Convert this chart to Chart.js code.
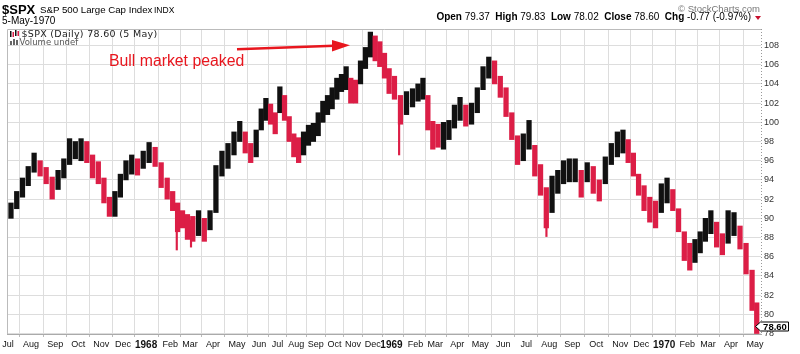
<!DOCTYPE html>
<html>
<head>
<meta charset="utf-8">
<script src="https://cdn.jsdelivr.net/npm/chart.js@4.4.0/dist/chart.umd.min.js"></script>
<style>
  body { margin: 0; background: #fff; }
  #wrap { position: relative; width: 800px; height: 354px; font-family: "Liberation Sans", Arial, sans-serif; color: #000; }
  #wrap canvas { position: absolute; left: 0; top: 0; }
  .t { position: absolute; white-space: nowrap; line-height: 1; }
  .leg { font-family: "DejaVu Sans", Verdana, sans-serif; }
</style>
</head>
<body>
<div id="wrap">
  <canvas id="spxChart" width="800" height="354"></canvas>

  <!-- header -->
  <div class="t" style="left:2px;top:3px;font-size:13px;font-weight:bold;">$SPX</div>
  <div class="t" style="left:40px;top:5px;font-size:9.7px;">S&amp;P 500 Large Cap Index</div>
  <div class="t" style="left:154px;top:5.7px;font-size:8.5px;">INDX</div>
  <div class="t" style="left:2px;top:15.5px;font-size:10px;">5-May-1970</div>
  <div class="t" style="right:40px;top:4px;font-size:9.5px;color:#777;">&copy; StockCharts.com</div>
  <div class="t" style="right:49px;top:11.5px;font-size:10px;">
    <b>Open</b> 79.37 &nbsp;<b>High</b> 79.83 &nbsp;<b>Low</b> 78.02 &nbsp;<b>Close</b> 78.60 &nbsp;<b>Chg</b> -0.77 (-0.97%)
  </div>
  <div style="position:absolute;left:755px;top:16px;width:0;height:0;border-left:3.5px solid transparent;border-right:3.5px solid transparent;border-top:4px solid #c8102e;"></div>

  <!-- in-chart legend -->
  <div class="t leg" style="left:21.5px;top:29px;font-size:9.5px;letter-spacing:0.3px;color:#222;">$SPX (Daily) 78.60 (5 May)</div>
  <div class="t leg" style="left:19.5px;top:37.5px;font-size:8.5px;color:#555;">Volume undef</div>

  <!-- annotation -->
  <div class="t" style="left:109px;top:53.2px;font-size:15.8px;color:#e8161e;">Bull market peaked</div>
</div>

<script>
// ============================================
// DATA
// ============================================

// month gridlines, Jul 1967 .. May 1970 (years replace January)
const monthLabels = ['Jul', 'Aug', 'Sep', 'Oct', 'Nov', 'Dec',
    '1968', 'Feb', 'Mar', 'Apr', 'May', 'Jun', 'Jul', 'Aug', 'Sep', 'Oct', 'Nov', 'Dec',
    '1969', 'Feb', 'Mar', 'Apr', 'May', 'Jun', 'Jul', 'Aug', 'Sep', 'Oct', 'Nov', 'Dec',
    '1970', 'Feb', 'Mar', 'Apr', 'May'];

// trading sessions in each month (1968 had the Wednesday closings)
const tradingDays = [21, 22, 21, 21, 20, 21,
    22, 18, 21, 22, 20, 17, 17, 18, 17, 17, 18, 17,
    22, 18, 20, 21, 21, 21, 21, 21, 22, 22, 19, 21,
    21, 19, 21, 22, 3];

// weekly bars per month (May 1970 only has 3 sessions)
const weeksPerMonth = [4, 4, 4, 4, 4, 4,
    4, 4, 4, 4, 4, 4, 4, 4, 4, 4, 4, 4,
    4, 4, 4, 4, 4, 4, 4, 4, 4, 4, 4, 4,
    4, 4, 4, 4, 1];

// weekly lows
const weekLows = [
    90.0, 91.0, 92.2, 93.4,    94.8, 94.4, 93.6, 92.0,    93.0, 94.2, 95.6, 96.2,
    96.0, 95.8, 94.2, 93.6,    91.6, 90.2, 90.2, 92.2,    94.0, 94.6, 94.5, 95.2,
    95.8, 95.4, 93.2, 92.0,    90.8, 88.6, 89.0, 87.8,    87.6, 88.2, 87.6, 88.8,
    90.6, 94.4, 95.2, 96.6,    98.0, 96.8, 95.8, 96.4,    99.2, 100.2, 99.8, 98.8,
    101.0, 100.2, 98.0, 96.4,  95.8, 96.6, 97.6, 98.0,    98.6, 100.0, 100.8, 101.4,
    102.4, 103.2, 103.4, 102.0, 102.0, 104.0, 105.6, 106.8, 106.4, 105.8, 104.6, 103.0,
    102.4, 99.8, 100.8, 101.6, 102.2, 102.4, 99.2, 97.2,  97.4, 97.2, 98.2, 99.4,
    100.2, 99.6, 99.8, 101.0,  103.4, 104.6, 104.0, 102.6, 100.6, 98.2, 95.6, 96.0,
    97.2, 94.4, 92.4, 89.0,    90.6, 92.6, 93.6, 93.8,    93.8, 92.2, 93.8, 92.6,
    91.8, 93.6, 95.6, 96.4,    96.8, 95.8, 94.4, 92.4,    90.8, 89.6, 89.0, 90.6,
    91.6, 90.8, 88.6, 85.6,    84.6, 85.4, 86.4, 87.6,    88.4, 87.0, 86.2, 87.4,
    88.2, 86.8, 84.2, 80.4,    78.0];

// weekly highs
const weekHighs = [
    91.6, 92.8, 94.2, 95.4,    96.8, 96.0, 95.3, 94.3,    95.0, 96.2, 98.3, 98.0,
    98.3, 98.0, 96.6, 95.9,    94.2, 92.2, 92.8, 94.6,    96.0, 96.6, 96.2, 97.0,
    97.9, 97.4, 95.8, 94.2,    92.8, 91.6, 90.8, 90.4,    90.2, 90.8, 90.0, 90.8,
    95.5, 97.0, 97.8, 99.0,    100.1, 99.0, 97.8, 99.2,   101.4, 102.5, 101.9, 101.0,
    103.7, 102.8, 100.6, 98.8, 98.4, 99.0, 99.7, 99.9,    101.0, 102.2, 102.8, 103.6,
    104.6, 105.0, 105.8, 104.6, 104.4, 106.4, 107.8, 109.4, 109.0, 108.4, 107.2, 105.6,
    104.8, 102.8, 103.2, 103.5, 104.0, 104.6, 102.8, 100.1, 99.8, 100.0, 100.2, 101.8,
    102.6, 101.8, 102.0, 103.6, 105.8, 106.8, 106.4, 104.8, 103.6, 101.0, 98.6, 98.8,
    100.2, 97.6, 95.6, 93.2,   94.4, 95.0, 96.0, 96.2,    96.2, 95.0, 95.8, 95.4,
    94.0, 96.4, 97.8, 99.0,    99.2, 98.2, 96.8, 94.6,    93.4, 92.2, 91.8, 93.6,
    94.2, 93.0, 91.0, 88.6,    87.4, 87.8, 88.6, 90.0,    90.8, 89.6, 88.4, 90.8,
    90.6, 89.2, 87.4, 84.6,    81.2];

// single-day spikes that stick out of the weekly range
const spikeMonth = [7, 8, 18, 24];
const spikeDay   = [6, 1, 7, 18.5];
const spikeLow   = [86.7, 87.0, 96.6, 88.1];
const spikeHigh  = [90.6, 89.8, 100.6, 91.4];

// price axis
const yTicks = [78, 80, 82, 84, 86, 88, 90, 92, 94, 96, 98, 100, 102, 104, 106, 108];
const lastClose = 78.60;


// ============================================
// BUILD THE CHART
// ============================================

const UP = '#111111';
const DOWN = '#dc1e46';
const FONT = '"Liberation Sans", Arial, sans-serif';

// first session of every month on a trading-day axis
const monthStart = [];
let acc = 0;
tradingDays.forEach(d => { monthStart.push(acc); acc += d; });

// weekly bars spread evenly across each month
const bars = [];
let k = 0;
monthLabels.forEach((m, i) => {
    const n = weeksPerMonth[i];
    for (let j = 0; j < n; j++, k++) {
        bars.push({ x: monthStart[i] + (j + 0.5) * tradingDays[i] / n, y: [weekLows[k], weekHighs[k]] });
    }
});

// black when the week moved up, red when it moved down
const barColors = bars.map((b, i) => {
    if (i === 0) return UP;
    const mid = weekLows[i] + weekHighs[i];
    const prev = weekLows[i - 1] + weekHighs[i - 1];
    return mid >= prev ? UP : DOWN;
});

const spikes = spikeMonth.map((m, i) => ({ x: monthStart[m] + spikeDay[i], y: [spikeLow[i], spikeHigh[i]] }));

// frame, arrow, little legend icons and the last-price tag
const extras = {
    id: 'extras',
    beforeDatasetsDraw(chart) {
        const { ctx, chartArea: a } = chart;
        ctx.save();
        ctx.strokeStyle = '#bbbbbb';
        ctx.lineWidth = 1;
        ctx.beginPath();
        ctx.moveTo(a.left + 0.5, a.bottom);
        ctx.lineTo(a.left + 0.5, a.top + 0.5);
        ctx.lineTo(a.right, a.top + 0.5);
        ctx.stroke();
        // dotted right edge next to the price scale
        ctx.strokeStyle = '#999999';
        ctx.setLineDash([1, 2]);
        ctx.beginPath();
        ctx.moveTo(a.right + 0.5, a.top);
        ctx.lineTo(a.right + 0.5, a.bottom);
        ctx.stroke();
        ctx.restore();
    },
    afterDraw(chart) {
        const { ctx } = chart;
        const y = chart.scales.y;
        ctx.save();

        // legend icons
        ctx.fillStyle = UP;
        ctx.fillRect(10, 31, 1.5, 6);
        ctx.fillRect(15, 30, 1.5, 6);
        ctx.fillStyle = DOWN;
        ctx.fillRect(12.5, 32, 1.5, 5);
        ctx.fillRect(17.5, 31, 1.5, 5);
        ctx.fillStyle = '#666';
        ctx.fillRect(10, 41, 2, 4);
        ctx.fillRect(13, 39, 2, 6);
        ctx.fillRect(16, 40, 2, 5);

        // annotation arrow
        ctx.strokeStyle = '#e8161e';
        ctx.fillStyle = '#e8161e';
        ctx.lineWidth = 2.5;
        ctx.beginPath();
        ctx.moveTo(237, 49.3);
        ctx.lineTo(334, 45.8);
        ctx.stroke();
        ctx.beginPath();
        ctx.moveTo(350, 45.2);
        ctx.lineTo(332, 40);
        ctx.lineTo(332, 51.6);
        ctx.closePath();
        ctx.fill();

        // last price tag
        const py = Math.round(y.getPixelForValue(lastClose)) - 1.5;
        ctx.fillStyle = '#ffffff';
        ctx.strokeStyle = '#000000';
        ctx.lineWidth = 1;
        ctx.beginPath();
        ctx.moveTo(755.5, py);
        ctx.lineTo(760.5, py - 4.5);
        ctx.lineTo(788.5, py - 4.5);
        ctx.lineTo(788.5, py + 4.5);
        ctx.lineTo(760.5, py + 4.5);
        ctx.closePath();
        ctx.fill();
        ctx.stroke();
        ctx.fillStyle = '#000';
        ctx.font = 'bold 9.5px ' + FONT;
        ctx.textAlign = 'center';
        ctx.textBaseline = 'middle';
        ctx.fillText(lastClose.toFixed(2), 775, py + 0.5);
        ctx.restore();
    }
};

const ctx = document.getElementById('spxChart').getContext('2d');

const spxChart = new Chart(ctx, {
    type: 'bar',
    data: {
        datasets: [
            { data: bars, backgroundColor: barColors, barThickness: 4.6, grouped: false, borderWidth: 0 },
            { data: spikes, backgroundColor: DOWN, barThickness: 1.5, grouped: false, borderWidth: 0 }
        ]
    },
    options: {
        responsive: false,
        animation: false,
        devicePixelRatio: 1,
        layout: { padding: { left: 7, top: 29, right: 0, bottom: 0 } },
        plugins: {
            legend: { display: false },
            tooltip: { enabled: false }
        },
        scales: {
            x: {
                type: 'linear',
                min: -1,
                max: 687.4,
                offset: false,
                afterBuildTicks: s => { s.ticks = monthStart.map(v => ({ value: v })); },
                afterFit: s => { s.height = 20; },
                grid: { color: '#dddddd', tickLength: 3, tickColor: '#bbbbbb' },
                border: { color: '#aaaaaa' },
                ticks: {
                    autoSkip: false,
                    maxRotation: 0,
                    padding: 2,
                    color: '#111',
                    callback: (v, i) => monthLabels[i],
                    font: c => /^\d{4}$/.test(monthLabels[c.index])
                        ? { family: FONT, size: 10, weight: 'bold' }
                        : { family: FONT, size: 9 }
                }
            },
            y: {
                position: 'right',
                min: 77.95,
                max: 109.72,
                afterBuildTicks: s => { s.ticks = yTicks.map(v => ({ value: v })); },
                afterFit: s => { s.width = 39; },
                grid: { color: '#dddddd', drawTicks: false },
                border: { display: false },
                ticks: { padding: 3, color: '#333', font: { family: FONT, size: 9 } }
            }
        }
    },
    plugins: [extras]
});
</script>
</body>
</html>
